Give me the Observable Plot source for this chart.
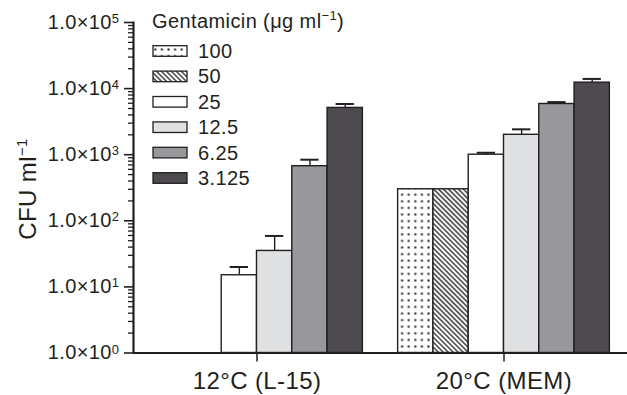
<!DOCTYPE html>
<html>
<head>
<meta charset="utf-8">
<script src="https://cdn.jsdelivr.net/npm/d3@7"></script>
<script src="https://cdn.jsdelivr.net/npm/@observablehq/plot@0.6"></script>
<style>
  html, body { margin: 0; padding: 0; background: #fff; }
  #chart { position: relative; width: 627px; height: 395px; }
  #chart svg text { letter-spacing: 0.4px; }
</style>
</head>
<body>
<div id="chart"></div>
<script>
// ---- data ----
const groups = ["12°C (L-15)", "20°C (MEM)"];
const concentrations = ["100", "50", "25", "12.5", "6.25", "3.125"];
const fills = ["url(#dots)", "url(#hatch)", "#ffffff", "#dfe0e2", "#98979c", "#4d4b50"];
const cfu12 = [null, null, 15, 35, 670, 5100];
const upper12 = [null, null, 20, 59, 840, 5850];
const cfu20 = [300, 300, 1000, 2000, 5850, 12300];
const upper20 = [null, null, 1070, 2420, 6250, 14000];
const majorTicks = [1, 10, 100, 1000, 10000, 100000];
const tickExponents = ["0", "1", "2", "3", "4", "5"];
const legendTitle = "Gentamicin (μg ml";
const yTitle = "CFU ml";

const ink = "#231f20";

const rows = [];
const errRows = [];
[[groups[0], cfu12, upper12], [groups[1], cfu20, upper20]].forEach(([g, vals, ups]) => {
  concentrations.forEach((c, i) => {
    if (vals[i] != null) rows.push({group: g, conc: c, value: vals[i]});
    if (vals[i] != null && ups[i] != null) errRows.push({group: g, conc: c, value: vals[i], upper: ups[i]});
  });
});

const minorTicks = [];
for (let k = 0; k < 5; k++) for (let m = 2; m <= 9; m++) minorTicks.push(m * Math.pow(10, k));

const chart = Plot.plot({
  width: 627,
  height: 395,
  marginLeft: 133,
  marginRight: 0,
  marginTop: 22,
  marginBottom: 42.5,
  style: {fontFamily: "'Liberation Sans', Arial, sans-serif", fontSize: "20px", color: ink, background: "#fff"},
  fx: {domain: groups, padding: 0, round: false, axis: null, label: null},
  x: {domain: concentrations, paddingInner: 0, paddingOuter: 0.5, round: false, axis: null},
  y: {type: "log", domain: [1, 1e5], axis: null},
  color: {domain: concentrations, range: fills},
  marks: [
    Plot.ruleX(errRows, {fx: "group", x: "conc", y1: "value", y2: "upper", stroke: ink, strokeWidth: 1.4}),
    Plot.tickY(errRows, {fx: "group", x: "conc", y: "upper", insetLeft: 8.5, insetRight: 8.5, stroke: ink, strokeWidth: 2}),
    Plot.barY(rows, {fx: "group", x: "conc", y1: 1, y2: "value", fill: "conc", stroke: ink, strokeWidth: 1.4}),
    Plot.ruleY([1], {stroke: ink, strokeWidth: 2}),
    Plot.frame({anchor: "left", facetAnchor: "left", stroke: ink, strokeWidth: 2.2}),
    Plot.axisY({ticks: minorTicks, tickSize: 5, tickFormat: () => "", label: null, strokeWidth: 1.3}),
    Plot.axisY({ticks: majorTicks, tickSize: 9, tickPadding: 5, label: null, strokeWidth: 1.6, fontSize: 20,
      tickFormat: (d) => "1.0×10^" + tickExponents[majorTicks.indexOf(d)]}),
    Plot.axisFx({anchor: "bottom", tickSize: 9, tickPadding: 10, label: null, fontSize: 24, strokeWidth: 1.5})
  ]
});

const svg = d3.select(chart);

// fill patterns used by the colour scale
const defs = svg.insert("defs", ":first-child");
const dots = defs.append("pattern").attr("id", "dots").attr("patternUnits", "userSpaceOnUse")
  .attr("width", 6.6).attr("height", 6.6);
dots.append("rect").attr("width", 6.6).attr("height", 6.6).attr("fill", "#fff");
dots.append("rect").attr("x", 2.3).attr("y", 2.3).attr("width", 2).attr("height", 2).attr("fill", ink);
const hatch = defs.append("pattern").attr("id", "hatch").attr("patternUnits", "userSpaceOnUse")
  .attr("width", 3.5).attr("height", 3.5).attr("patternTransform", "rotate(-45)");
hatch.append("rect").attr("width", 3.5).attr("height", 3.5).attr("fill", "#fff");
hatch.append("line").attr("x1", 1.75).attr("x2", 1.75).attr("y1", -1).attr("y2", 4.5)
  .attr("stroke", ink).attr("stroke-width", 1.3);

// superscript exponents in the y tick labels
svg.selectAll('g[aria-label="y-axis tick label"] text').each(function () {
  const t = d3.select(this);
  const s = t.text();
  if (!s.includes("^")) return;
  const [base, exp] = s.split("^");
  t.text(base);
  t.append("tspan").attr("dy", "-0.45em").attr("font-size", 13).text(exp);
});

// y title
const yt = svg.append("text")
  .attr("transform", "translate(36,189) rotate(-90)")
  .attr("text-anchor", "middle")
  .attr("font-size", 24)
  .attr("letter-spacing", "0.8px")
  .attr("fill", ink)
  .text(yTitle);
yt.append("tspan").attr("dy", -9).attr("font-size", 15).text("−1");

// legend
const lg = svg.append("g").attr("transform", "translate(152,0)").attr("fill", ink).attr("text-anchor", "start");
const lt = lg.append("text").attr("x", 0).attr("y", 28).attr("font-size", 20).attr("letter-spacing", "0.8px").text(legendTitle);
lt.append("tspan").attr("dy", -8).attr("font-size", 13).text("−1");
lt.append("tspan").attr("dy", 8).text(")");
concentrations.forEach((c, i) => {
  const cy = 51 + i * 25.4;
  lg.append("rect").attr("x", 1).attr("y", cy - 5.3).attr("width", 34).attr("height", 10.6)
    .attr("fill", fills[i]).attr("stroke", ink).attr("stroke-width", 1.3);
  lg.append("text").attr("x", 46).attr("y", cy + 7).attr("font-size", 20).attr("letter-spacing", "0.6px").text(c);
});

document.getElementById("chart").appendChild(chart);
</script>
</body>
</html>
